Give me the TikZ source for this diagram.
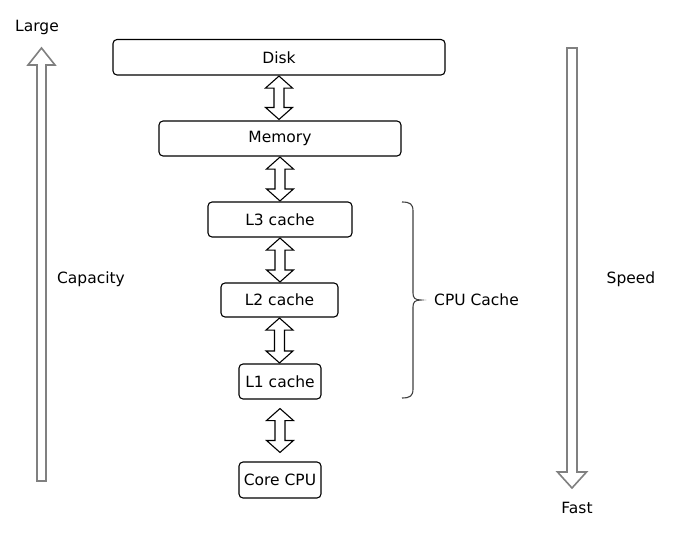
\documentclass[tikz,border=0pt]{standalone}
\usepackage{fontspec}
\setmainfont{DejaVu Sans}
\usetikzlibrary{calc}
\tikzset{
  box/.style={draw=black, line width=1.1pt, rounded corners=4pt, inner sep=0pt, font=\fontsize{15.5}{18}\selectfont},
  lbl/.style={inner sep=0pt, font=\fontsize{15.5}{18}\selectfont},
  blk/.style={draw=black, line width=1.1pt, fill=white, line join=miter},
  bigarr/.style={draw=gray, line width=1.6pt, fill=white, line join=miter},
  brace/.style={draw=black!75, line width=1.1pt}
}
\newcommand\dblarrow[4]{%
  \draw[blk] let \p1=(#1.south), \p2=(#2.north) in
    (\x1,\y1-#3) -- (\x1+13.5pt,\y1-#3-12pt) -- (\x1+5pt,\y1-#3-12pt)
    -- (\x1+5pt,\y2+#4+12pt) -- (\x1+13.5pt,\y2+#4+12pt) -- (\x1,\y2+#4)
    -- (\x1-13.5pt,\y2+#4+12pt) -- (\x1-5pt,\y2+#4+12pt)
    -- (\x1-5pt,\y1-#3-12pt) -- (\x1-13.5pt,\y1-#3-12pt) -- cycle;}
\begin{document}
\begin{tikzpicture}[x=1pt,y=-1pt]
\useasboundingbox[fill=white] (0,0) rectangle (686,546);
% boxes
\node[box, minimum width=332pt, minimum height=35.5pt] (disk) at (279,57.25) {Disk};
\node[box, minimum width=242pt, minimum height=35pt] (mem) at (280,138.5) {Memory};
\node[box, minimum width=144pt, minimum height=35pt] (l3) at (280,219.5) {L3 cache};
\node[box, minimum width=117pt, minimum height=34pt] (l2) at (279.5,300) {L2 cache};
\node[box, minimum width=82pt, minimum height=35pt] (l1) at (280,381.5) {L1 cache};
\node[box, minimum width=82pt, minimum height=36pt] (cpu) at (280,480) {Core CPU};
% double arrows
\dblarrow{disk}{mem}{0.5pt}{1pt}
\dblarrow{mem}{l3}{0.5pt}{0.5pt}
\dblarrow{l3}{l2}{0.5pt}{0.5pt}
\dblarrow{l2}{l1}{0.5pt}{0.5pt}
\dblarrow{l1}{cpu}{9pt}{9pt}
% big arrows
\draw[bigarr] (41.5,48) -- (55,65) -- (46,65) -- (46,481) -- (37,481) -- (37,65) -- (28,65) -- cycle;
\draw[bigarr] (572,488) -- (586.5,472) -- (577,472) -- (577,48) -- (567,48) -- (567,472) -- (557.5,472) -- cycle;
% labels
\node[lbl] (large) at (37,27) {Large};
\node[lbl] (cap) at (91,279) {Capacity};
\node[lbl] (speed) at (631,279) {Speed};
\node[lbl] (fast) at (577,508) {Fast};
% brace
\draw[brace] (402,202) .. controls (410,202) and (413,204) .. (413,211) -- (413,293)
  .. controls (413,298) and (415,300) .. (421,300)
  .. controls (415,300) and (413,302) .. (413,307) -- (413,389)
  .. controls (413,396) and (410,398) .. (402,398);
\node[lbl, anchor=west] (cc) at (434,300) {CPU Cache};
\end{tikzpicture}
\end{document}
